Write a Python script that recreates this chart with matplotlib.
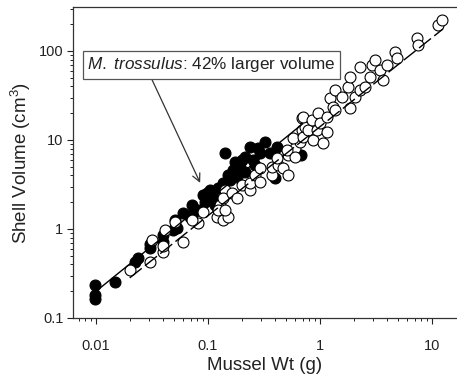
import numpy as np
import matplotlib
matplotlib.use('Agg')
import matplotlib.pyplot as plt

plt.rcParams['font.family'] = ['Liberation Sans', 'DejaVu Sans']
plt.rcParams['mathtext.fontset'] = 'custom'
plt.rcParams['mathtext.rm'] = 'Liberation Sans'
plt.rcParams['mathtext.it'] = 'Liberation Sans:italic'

# M. trossulus (filled): mussel weight (g), shell volume (cm3)
filled_wt = [0.0098, 0.0098, 0.0098, 0.0148, 0.0223, 0.0237, 0.0303, 0.0303,
             0.0396, 0.0396, 0.0487, 0.0529, 0.069, 0.072, 0.073, 0.090,
             0.094, 0.098, 0.104, 0.111, 0.115, 0.136, 0.142, 0.157, 0.174,
             0.181, 0.193, 0.193, 0.201, 0.214, 0.214, 0.237, 0.252, 0.291,
             0.323, 0.358, 0.413, 0.396, 0.676, 0.0507, 0.060, 0.081, 0.123,
             0.151, 0.167, 0.263, 0.28]
filled_vol = [0.235, 0.181, 0.163, 0.254, 0.426, 0.472, 0.61, 0.68,
              0.71, 0.86, 0.97, 1.03, 1.36, 1.86, 1.51, 2.41,
              2.01, 2.54, 2.74, 2.29, 1.86, 3.29, 7.14, 3.55, 5.66,
              3.84, 5.52, 4.84, 5.96, 4.37, 6.44, 8.34, 5.96, 7.14,
              9.5, 7.14, 8.34, 3.74, 6.78, 1.26, 1.51, 1.63, 2.89,
              4.04, 4.6, 5.24, 8.1]

# other mussels (open)
open_wt = [0.0201, 0.0303, 0.0316, 0.0396, 0.0396, 0.0413, 0.0507, 0.060,
           0.081, 0.090, 0.072, 0.120, 0.136, 0.128, 0.123, 0.151, 0.142,
           0.142, 0.136, 0.164, 0.181, 0.201, 0.237, 0.237, 0.263, 0.291,
           0.291, 0.372, 0.372, 0.422, 0.468, 0.413, 0.518, 0.518, 0.598,
           0.663, 0.69, 0.69, 0.507, 0.598, 0.574, 0.705, 0.734, 0.705,
           0.78, 0.849, 0.866, 0.94, 0.96, 1.0, 1.06, 1.155, 1.155, 1.23,
           1.31, 1.36, 1.36, 1.57, 1.78, 1.85, 1.85, 2.05, 2.28, 2.28,
           2.52, 2.79, 2.91, 3.1, 3.43, 3.65, 3.96, 4.67, 4.87, 7.35, 7.5,
           11.3, 12.3]
open_vol = [0.346, 0.426, 0.75, 0.55, 0.64, 0.97, 1.2, 0.71,
            1.17, 1.55, 1.26, 1.36, 1.26, 1.86, 1.64, 1.36, 1.64,
            2.74, 2.23, 2.54, 2.23, 3.12, 2.74, 3.29, 4.04, 3.37,
            4.84, 4.04, 4.97, 5.24, 4.84, 6.28, 4.04, 6.78, 8.13,
            9.5, 17.7, 12.9, 7.72, 6.44, 10.5, 10.8, 14.0, 18.1,
            12.9, 16.8, 10.0, 12.9, 20.1, 15.5, 9.25, 12.3, 18.1, 29.6,
            23.5, 36.5, 21.7, 30.4, 39.4, 51, 22.9, 30.4, 66, 36.5,
            39.4, 51, 69.6, 79, 61, 47.2, 69.6, 97.5, 83.4, 140, 117,
            196, 223]

# regression lines, log10(vol) = a + b*log10(wt), with fitted wt range
fit_filled = (1.34, 1.02, 0.01, 0.7)
fit_open = (1.15, 1.00, 0.02, 12.5)

fig = plt.figure(figsize=(4.57, 3.79), dpi=100)
ax = fig.add_axes([0.16, 0.161, 0.84, 0.8205])

ax.scatter(filled_wt, filled_vol, s=62, c='black', edgecolors='black',
           linewidths=0.8, zorder=2)
ax.scatter(open_wt, open_vol, s=62, facecolors='white', edgecolors='black',
           linewidths=0.8, zorder=3)

a, b, lo, hi = fit_filled
xs = np.logspace(np.log10(lo), np.log10(hi), 50)
ax.plot(xs, 10 ** (a + b * np.log10(xs)), color='black', lw=1.0, zorder=4)
a, b, lo, hi = fit_open
xs = np.logspace(np.log10(lo), np.log10(hi), 50)
ax.plot(xs, 10 ** (a + b * np.log10(xs)), color='black', lw=1.0,
        dashes=(11, 3), zorder=4)

ax.set_xscale('log')
ax.set_yscale('log')
ax.set_xlim(0.00624, 16.7)
ax.set_ylim(0.1, 312)
ax.set_xticks([0.01, 0.1, 1, 10])
ax.set_xticklabels(['0.01', '0.1', '1', '10'])
ax.set_yticks([0.1, 1, 10, 100])
ax.set_yticklabels(['0.1', '1', '10', '100'])
ax.tick_params(which='major', direction='out', length=4, width=0.8,
               labelsize=10.5, colors='#222222')
ax.tick_params(which='minor', direction='out', length=2.5, width=0.7,
               colors='#222222')
ax.tick_params(axis='x', pad=11)
ax.tick_params(axis='y', pad=3)
ax.spines['right'].set_visible(False)
for s in ('left', 'bottom', 'top'):
    ax.spines[s].set_color('#333333')
    ax.spines[s].set_linewidth(0.9)

ax.set_xlabel('Mussel Wt (g)', fontsize=13.5, color='#222222', labelpad=3)
ax.set_ylabel(r'Shell Volume (cm$^3$)', fontsize=13.5, color='#222222',
              labelpad=4)

ax.annotate(r'$\mathit{M.\ trossulus}$: 42% larger volume',
            xy=(0.085, 3.3), xycoords='data',
            xytext=(0.361, 0.814), textcoords='axes fraction',
            ha='center', va='center', fontsize=12.3, color='#222222',
            bbox=dict(boxstyle='square,pad=0.25', fc='white', ec='#555555',
                      lw=0.9),
            arrowprops=dict(arrowstyle='->', color='#333333', lw=0.9,
                            relpos=(0.25, 0.0), shrinkA=0, shrinkB=0,
                            mutation_scale=14),
            zorder=5)

fig.savefig('out.png', dpi=100)
